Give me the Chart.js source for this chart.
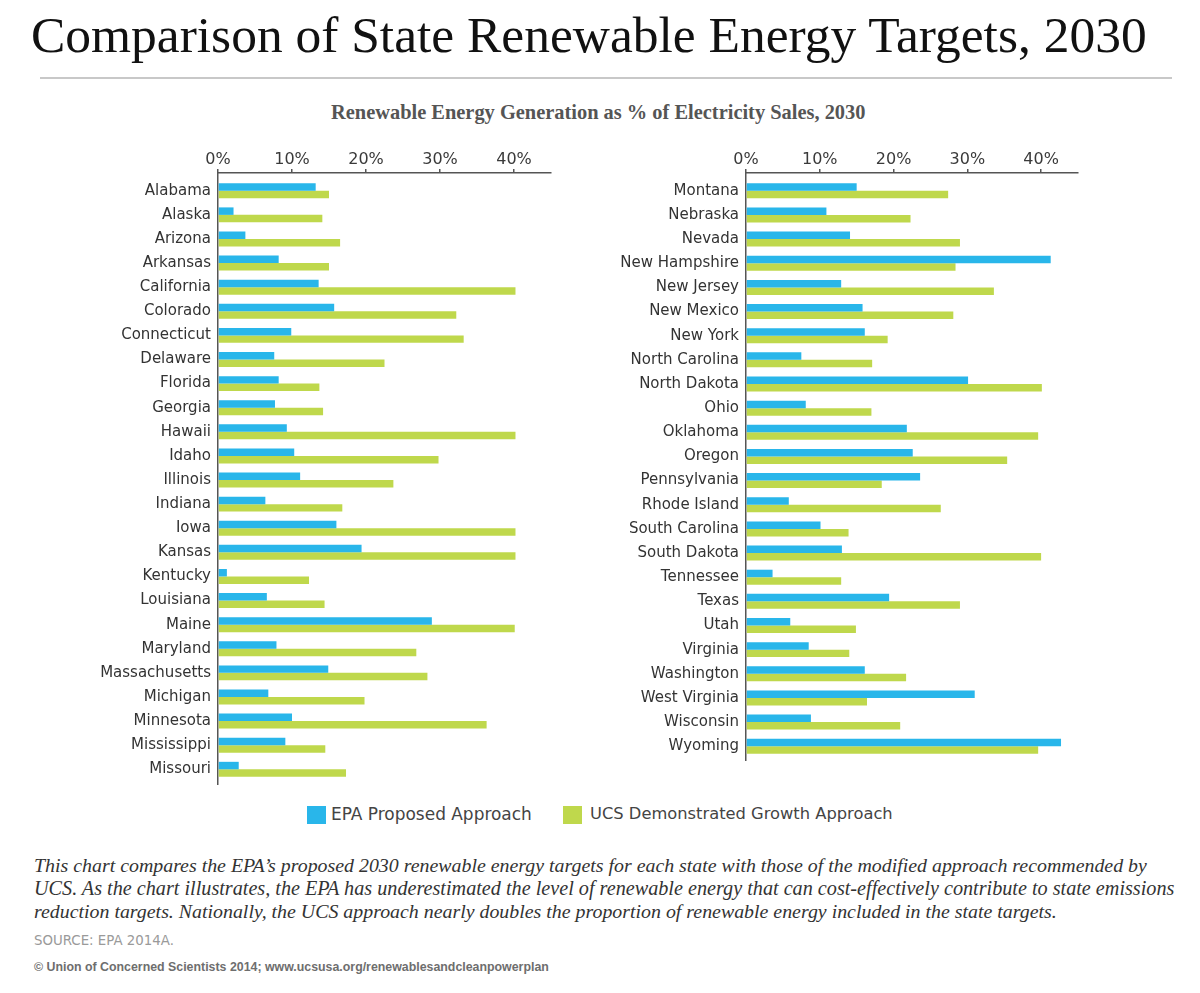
<html><head><meta charset="utf-8">
<script src="https://cdn.jsdelivr.net/npm/chart.js@4.4.0/dist/chart.umd.min.js"></script>
<style>
 body { margin:0; width:1200px; height:993px; background:#fff; position:relative; overflow:hidden; }
 .t { position:absolute; white-space:nowrap; }
 .title { left:31px; top:9px; font:51px/51px "Liberation Serif", serif; color:#111; }
 .rule { position:absolute; left:40px; top:77px; width:1132px; height:2px; background:#c8c8c8; }
 .sub { left:331px; top:102px; font:bold 17px/20px "Liberation Serif", serif; color:#555; }
 .leg { font:17px/20px "DejaVu Sans", sans-serif; color:#444; top:804px; }
 .sq { position:absolute; width:19px; height:18px; top:806px; }
 .cap { left:34px; font:italic 19px/22px "Liberation Serif", serif; color:#333; }
 .src { left:34px; top:933px; font:12.5px/16px "DejaVu Sans", sans-serif; color:#9a9a9a; }
 .copy { left:34px; top:959px; font:bold 13px/16px "Liberation Sans", sans-serif; color:#6e6e6e; }
 canvas { position:absolute; top:140px; }
</style>
</head>
<body>
<div class="t title" data-w="1116">Comparison of State Renewable Energy Targets, 2030</div>
<div class="rule"></div>
<div class="t sub" data-w="535">Renewable Energy Generation as % of Electricity Sales, 2030</div>

<canvas id="left" width="560" height="660" style="left:0px"></canvas>
<canvas id="right" width="640" height="660" style="left:560px"></canvas>

<div class="sq" id="sqA" style="left:307px"></div>
<div class="t leg" style="left:331px" data-w="201">EPA Proposed Approach</div>
<div class="sq" id="sqB" style="left:563px"></div>
<div class="t leg" style="left:590px" data-w="303">UCS Demonstrated Growth Approach</div>

<div class="t cap" style="top:854px" data-w="1114">This chart compares the EPA’s proposed 2030 renewable energy targets for each state with those of the modified approach recommended by</div>
<div class="t cap" style="top:877px" data-w="1141">UCS. As the chart illustrates, the EPA has underestimated the level of renewable energy that can cost-effectively contribute to state emissions</div>
<div class="t cap" style="top:900px" data-w="1023">reduction targets. Nationally, the UCS approach nearly doubles the proportion of renewable energy included in the state targets.</div>
<div class="t src" data-w="140">SOURCE: EPA 2014A.</div>
<div class="t copy" data-w="515">© Union of Concerned Scientists 2014; www.ucsusa.org/renewablesandcleanpowerplan</div>

<script>
// states, first panel
var statesA = ['Alabama','Alaska','Arizona','Arkansas','California','Colorado','Connecticut','Delaware','Florida','Georgia','Hawaii','Idaho','Illinois','Indiana','Iowa','Kansas','Kentucky','Louisiana','Maine','Maryland','Massachusetts','Michigan','Minnesota','Mississippi','Missouri'];
var epaA = [13.2, 2.1, 3.7, 8.2, 13.6, 15.7, 9.9, 7.6, 8.2, 7.7, 9.3, 10.3, 11.1, 6.4, 16.0, 19.4, 1.2, 6.6, 28.9, 7.9, 14.9, 6.8, 10.0, 9.1, 2.8];
var ucsA = [15.0, 14.1, 16.5, 15.0, 40.2, 32.2, 33.2, 22.5, 13.7, 14.2, 40.2, 29.8, 23.7, 16.8, 40.2, 40.2, 12.3, 14.4, 40.1, 26.8, 28.3, 19.8, 36.3, 14.5, 17.3];

// second panel
var statesB = ['Montana','Nebraska','Nevada','New Hampshire','New Jersey','New Mexico','New York','North Carolina','North Dakota','Ohio','Oklahoma','Oregon','Pennsylvania','Rhode Island','South Carolina','South Dakota','Tennessee','Texas','Utah','Virginia','Washington','West Virginia','Wisconsin','Wyoming'];
var epaB = [15.0, 10.9, 14.1, 41.3, 12.9, 15.8, 16.1, 7.5, 30.1, 8.1, 21.8, 22.6, 23.6, 5.8, 10.1, 13.0, 3.6, 19.4, 6.0, 8.5, 16.1, 31.0, 8.8, 42.7];
var ucsB = [27.4, 22.3, 29.0, 28.4, 33.6, 28.1, 19.2, 17.1, 40.1, 17.0, 39.6, 35.4, 18.4, 26.4, 13.9, 40.0, 12.9, 29.0, 14.9, 14.0, 21.7, 16.4, 20.9, 39.6];

var xTicks = [0, 10, 20, 30, 40];
var seriesNames = ['EPA Proposed Approach', 'UCS Demonstrated Growth Approach'];
var blue = '#29b6ea', green = '#bfd84c';

document.getElementById('sqA').style.background = blue;
document.getElementById('sqB').style.background = green;

// squeeze each text line to the width it has in the picture
document.querySelectorAll('[data-w]').forEach(function (el) {
  var w = el.getBoundingClientRect().width;
  var fs = parseFloat(getComputedStyle(el).fontSize);
  el.style.fontSize = (fs * (+el.dataset.w) / w) + 'px';
});

function panel(id, states, epa, ucs, yMax, yWidth, padRight, padBottom) {
  return new Chart(document.getElementById(id), {
    type: 'bar',
    data: {
      datasets: [
        { label: seriesNames[0], backgroundColor: blue, data: epa.map(function (v, i) { return {x: v, y: i}; }) },
        { label: seriesNames[1], backgroundColor: green, data: ucs.map(function (v, i) { return {x: v, y: i}; }) }
      ]
    },
    options: {
      indexAxis: 'y',
      responsive: false,
      animation: false,
      barPercentage: 1,
      categoryPercentage: 0.62,
      layout: { padding: { left: 0, top: 0, right: padRight, bottom: padBottom } },
      plugins: { legend: { display: false }, tooltip: { enabled: false } },
      scales: {
        x: {
          type: 'linear', position: 'top', min: 0, max: 45,
          afterBuildTicks: function (s) { s.ticks = xTicks.map(function (v) { return {value: v}; }); },
          afterFit: function (s) { s.height = 33; },
          ticks: { callback: function (v) { return v + '%'; }, font: { family: 'DejaVu Sans', size: 16 }, color: '#3a3a3a', padding: 0, maxRotation: 0, autoSkip: false },
          grid: { drawOnChartArea: false, drawTicks: true, tickLength: 4, color: '#555', lineWidth: 1.5 },
          border: { display: true, color: '#555', width: 1.5 }
        },
        y: {
          type: 'linear', reverse: true, offset: false, min: -0.737, max: yMax,
          afterBuildTicks: function (s) { s.ticks = states.map(function (_, i) { return {value: i}; }); },
          afterFit: function (s) { s.width = yWidth; },
          ticks: { callback: function (v) { return states[v]; }, font: { family: 'DejaVu Sans', size: 15 }, color: '#333', padding: 7, autoSkip: false },
          grid: { display: false, drawTicks: false, offset: false },
          border: { display: true, color: '#555', width: 1.5 }
        }
      }
    }
  });
}

panel('left', statesA, epaA, ucsA, 24.61, 218, 9, 15);
panel('right', statesB, epaB, ucsB, 23.57, 186, 122, 40);
</script>
</body></html>
